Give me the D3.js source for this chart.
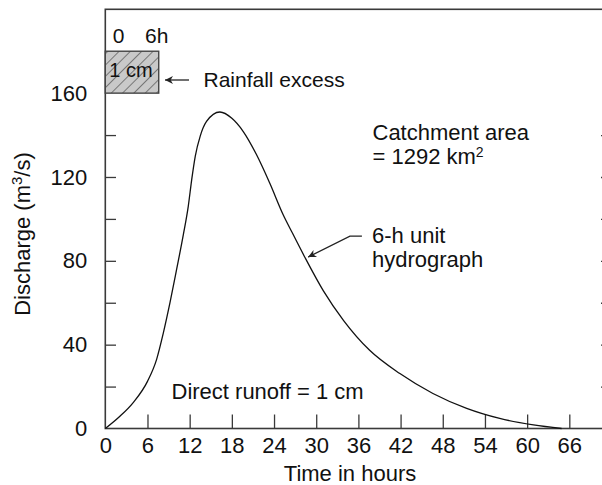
<!DOCTYPE html>
<html>
<head>
<meta charset="utf-8">
<script src="https://cdn.jsdelivr.net/npm/d3@7"></script>
<style>
  html, body { margin: 0; padding: 0; background: #fff; }
  svg { display: block; font-family: "Liberation Sans", Arial, Helvetica, sans-serif; }
</style>
</head>
<body>
<svg id="chart" width="602" height="485"></svg>
<script>
// ---- data ----
const hours =     [0, 2, 4, 6, 7.3, 8.25, 9.2, 10.15, 11.1, 11.8, 12.3, 12.8, 13.5, 14.4, 16.3, 18, 19.6, 21.5, 23.4, 25.3, 26.5, 28.4, 31, 33.9, 37.6, 41.9, 46.6, 51.4, 56.1, 60.9, 64.9];
const discharge = [0, 5.6, 12.5, 22.5, 33, 45.5, 60, 76, 92.5, 106, 119, 130, 139.5, 146.5, 151, 148, 141.8, 130.7, 117, 102, 94, 81.6, 65.8, 51.5, 37.3, 26.2, 16.7, 9.6, 4.8, 1.7, 0];
const xTickValues = [0, 6, 12, 18, 24, 30, 36, 42, 48, 54, 60, 66];
const yLabelValues = [0, 40, 80, 120, 160];
const yTickValues = [20, 40, 60, 80, 100, 120, 140];
const rainfall = [{ start: 0, end: 7.6, low: 160, high: 180, label: "1 cm" }];
const rainTimeLabels = ["0", "6h"];
const annotations = {
  rainfall: "Rainfall excess",
  area: ["Catchment area", "= 1292 km", "2"],
  unit: ["6-h unit", "hydrograph"],
  runoff: "Direct runoff = 1 cm"
};
const xTitle = "Time in hours";

// ---- layout ----
const svg = d3.select("#chart");
const x = d3.scaleLinear().domain([0, 72]).range([105.3, 611.5]);
const y = d3.scaleLinear().domain([0, 200]).range([428.5, 9.3]);
const axisColor = "#3a3a3a";
const textColor = "#111";
const FS = 22;

// hatch pattern
const defs = svg.append("defs");
const pat = defs.append("pattern").attr("id", "hatch").attr("patternUnits", "userSpaceOnUse")
  .attr("width", 8).attr("height", 8).attr("patternTransform", "rotate(45)");
pat.append("rect").attr("width", 8).attr("height", 8).attr("fill", "#c9c9c9");
pat.append("line").attr("x1", 0).attr("y1", 0).attr("x2", 0).attr("y2", 8)
  .attr("stroke", "#333").attr("stroke-width", 1.1);

// arrow marker
defs.append("marker").attr("id", "arrow").attr("viewBox", "0 0 10 10")
  .attr("refX", 10).attr("refY", 5).attr("markerWidth", 11).attr("markerHeight", 8)
  .attr("markerUnits", "userSpaceOnUse").attr("orient", "auto")
  .append("path").attr("d", "M0,0 L10,5 L0,10 L3,5 Z").attr("fill", "#222");

// ---- x axis (ticks inward + labels) ----
const xAxis = d3.axisBottom(x).tickValues(xTickValues).tickSizeInner(-14).tickSizeOuter(0).tickPadding(9);
const gx = svg.append("g").attr("transform", `translate(0,${y(0)})`).call(xAxis);
gx.select(".domain").remove();
gx.selectAll(".tick line").attr("stroke", axisColor).attr("stroke-width", 1.3);
gx.selectAll(".tick text").attr("font-size", FS).attr("fill", textColor).attr("font-family", "Liberation Sans, Arial, sans-serif");
gx.selectAll(".tick").filter(d => d === 0).select("line").remove();

// ---- y axis labels ----
const yAxisLabels = d3.axisLeft(y).tickValues(yLabelValues).tickSize(0).tickPadding(18);
const gyl = svg.append("g").attr("transform", `translate(${x(0)},0)`).call(yAxisLabels);
gyl.select(".domain").remove();
gyl.selectAll(".tick text").attr("font-size", FS).attr("fill", textColor).attr("font-family", "Liberation Sans, Arial, sans-serif");

// y ticks (inward)
const yAxisTicks = d3.axisLeft(y).tickValues(yTickValues).tickSizeInner(-10.7).tickSizeOuter(0).tickFormat("");
const gyt = svg.append("g").attr("transform", `translate(${x(0)},0)`).call(yAxisTicks);
gyt.select(".domain").remove();
gyt.selectAll(".tick line").attr("stroke", axisColor).attr("stroke-width", 1.3);

// right axis ticks (inward)
const yAxisRight = d3.axisRight(y).tickValues(yTickValues).tickSizeInner(-10.5).tickSizeOuter(0).tickFormat("");
const gyr = svg.append("g").attr("transform", `translate(${x(72)},0)`).call(yAxisRight);
gyr.select(".domain").remove();
gyr.selectAll(".tick line").attr("stroke", axisColor).attr("stroke-width", 1.3);

// frame
svg.append("rect").attr("x", x(0)).attr("y", y(200)).attr("width", x(72) - x(0)).attr("height", y(0) - y(200))
  .attr("fill", "none").attr("stroke", axisColor).attr("stroke-width", 1.6);

// ---- hydrograph curve ----
const pts = hours.map((h, i) => [h, discharge[i]]);
const line = d3.line().x(d => x(d[0])).y(d => y(d[1])).curve(d3.curveMonotoneX);
svg.append("path").datum(pts).attr("d", line).attr("fill", "none").attr("stroke", "#111").attr("stroke-width", 1.3);

// ---- rainfall block ----
const rb = svg.append("g");
rb.selectAll("rect").data(rainfall).join("rect")
  .attr("x", d => x(d.start)).attr("y", d => y(d.high))
  .attr("width", d => x(d.end) - x(d.start)).attr("height", d => y(d.low) - y(d.high))
  .attr("fill", "url(#hatch)").attr("stroke", "#444").attr("stroke-width", 1.4);
rb.selectAll("text.lab").data(rainfall).join("text").attr("class", "lab")
  .attr("x", d => x(d.start) + 4).attr("y", 77).attr("font-size", 20).attr("fill", textColor)
  .text(d => d.label);
svg.append("text").attr("x", 118.5).attr("y", 43).attr("text-anchor", "middle").attr("font-size", 21).attr("fill", textColor).text(rainTimeLabels[0]);
svg.append("text").attr("x", 145).attr("y", 43).attr("font-size", 21).attr("fill", textColor).text(rainTimeLabels[1]);

// rainfall excess annotation
svg.append("line").attr("x1", 189).attr("y1", 80).attr("x2", 165).attr("y2", 80)
  .attr("stroke", "#222").attr("stroke-width", 1.3).attr("marker-end", "url(#arrow)");
svg.append("text").attr("x", 203.5).attr("y", 87).attr("font-size", 21).attr("fill", textColor).text(annotations.rainfall);

// catchment area
svg.append("text").attr("x", 372.5).attr("y", 139.5).attr("font-size", FS).attr("fill", textColor).text(annotations.area[0]);
const t2 = svg.append("text").attr("x", 372.5).attr("y", 163.5).attr("font-size", FS).attr("fill", textColor);
t2.append("tspan").text(annotations.area[1]);
t2.append("tspan").attr("dy", -7).attr("font-size", 14).text(annotations.area[2]);

// unit hydrograph annotation
const tip = [28.85, 81.8], elbow = [34.8, 91.8], start = [36.5, 91.8];
svg.append("path").attr("d", d3.line()([[x(start[0]), y(start[1])], [x(elbow[0]), y(elbow[1])], [x(tip[0]), y(tip[1])]]))
  .attr("fill", "none").attr("stroke", "#222").attr("stroke-width", 1.3).attr("marker-end", "url(#arrow)");
svg.append("text").attr("x", 372).attr("y", 242.5).attr("font-size", FS).attr("fill", textColor).text(annotations.unit[0]);
svg.append("text").attr("x", 372).attr("y", 266.5).attr("font-size", FS).attr("fill", textColor).text(annotations.unit[1]);

// direct runoff
svg.append("text").attr("x", 171.5).attr("y", 398.5).attr("font-size", FS).attr("fill", textColor).text(annotations.runoff);

// ---- axis titles ----
svg.append("text").attr("x", 350).attr("y", 481).attr("text-anchor", "middle").attr("font-size", FS).attr("fill", textColor).text(xTitle);
const yt = svg.append("text").attr("transform", "translate(29.5,234) rotate(-90)").attr("text-anchor", "middle")
  .attr("font-size", FS).attr("fill", textColor);
yt.append("tspan").text("Discharge (m");
yt.append("tspan").attr("dy", -8).attr("font-size", 15).text("3");
yt.append("tspan").attr("dy", 8).text("/s)");
</script>
</body>
</html>
